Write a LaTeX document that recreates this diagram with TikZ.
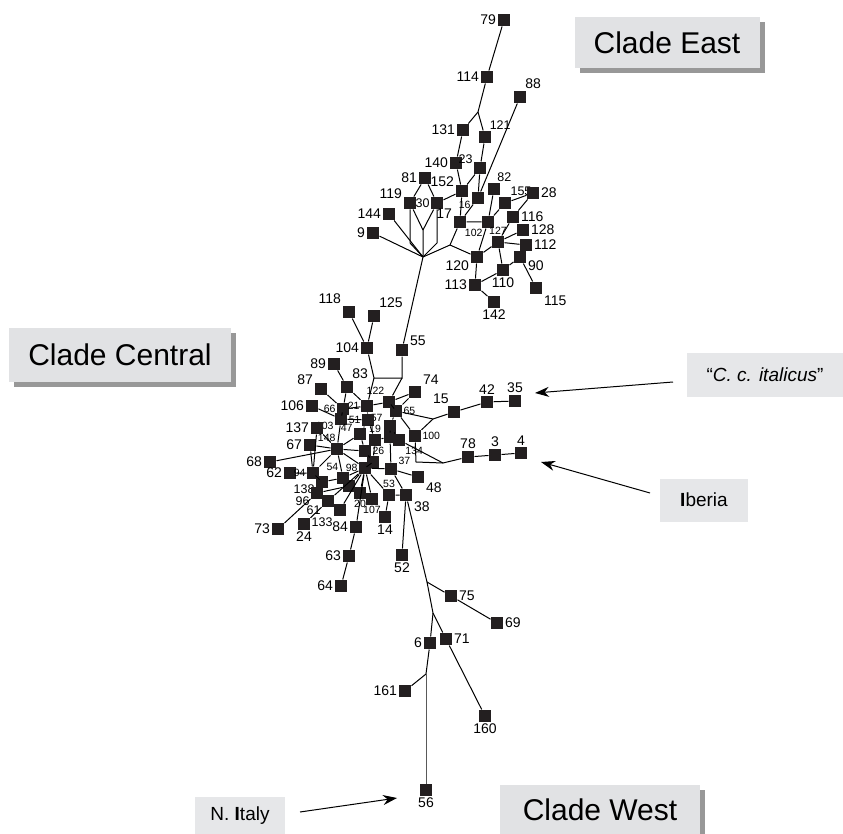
\documentclass[tikz,border=0pt]{standalone}
\usepackage{fontspec}
\setmainfont{Liberation Sans}
\usetikzlibrary{arrows.meta,shadows}
\definecolor{ink}{HTML}{231F20}
\definecolor{boxgray}{HTML}{E1E2E4}
\definecolor{tagfill}{HTML}{E6E7E9}
\definecolor{shade}{HTML}{989898}

\begin{document}
\begin{tikzpicture}[x=1pt,y=-1pt,line width=1pt,
  hap/.style = {rectangle, fill=ink, minimum size=12pt, inner sep=0pt},
  every label/.style = {font=\fontsize{14}{14}\selectfont, inner sep=1pt, text=black},
  mid/.style = {font=\fontsize{12.5}{13}\selectfont, inner sep=0.5pt},
  sml/.style = {font=\fontsize{10.5}{11}\selectfont, inner sep=0.5pt},
  clade/.style = {fill=boxgray, font=\fontsize{30}{30}\selectfont,
    drop shadow={shadow xshift=5pt, shadow yshift=-5pt, fill=shade, opacity=1}},
  tag/.style = {fill=tagfill, font=\fontsize{19}{19}\selectfont},
  pointer/.style = {->, line width=1pt},
  >={Stealth[length=14pt,width=10pt]}]
  \useasboundingbox (0,0) rectangle (843,834);

  % clade east
  \node[hap,label=left:79] (n79) at (504,20) {};
  \node[hap,label=left:114] (n114) at (487,77) {};
  \node[hap,label=60:88] (n88) at (520,97) {};
  \node[hap,label=left:131] (n131) at (463,130) {};
  \node[hap,label={[mid]60:121}] (n121) at (485,137) {};
  \node[hap,label=left:140] (n140) at (456,163) {};
  \node[hap,label={[mid]150:23}] (n23) at (480,168) {};
  \node[hap,label=left:81] (n81) at (425,178) {};
  \node[hap,label={[mid]70:82}] (n82) at (494,189) {};
  \node[hap,label=160:152] (n152) at (462,191) {};
  \node[hap,label={[sml]200:16}] (n16) at (478,198) {};
  \node[hap,label={[mid]55:155}] (n155) at (505,203) {};
  \node[hap,label=right:28] (n28) at (533,193) {};
  \node[hap,label=160:119] (n119) at (410,203) {};
  \node[hap,label={[mid]left:30}] (n30) at (437,203) {};
  \node[hap,label=left:144] (n144) at (389,214) {};
  \node[hap,label=160:17] (n17) at (460,222) {};
  \node[hap,label={[sml]235:102}] (n102) at (488,222) {};
  \node[hap,label={[sml]above:127}] (n127) at (498,242) {};
  \node[hap,label=right:116] (n116) at (513,217) {};
  \node[hap,label=right:128] (n128) at (523,230) {};
  \node[hap,label=left:9] (n9) at (373,233) {};
  \node[hap,label=right:112] (n112) at (526,245) {};
  \node[hap,label=-20:90] (n90) at (520,257) {};
  \node[hap,label=200:120] (n120) at (477,257) {};
  \node[hap,label=below:110] (n110) at (503,270) {};
  \node[hap,label=left:113] (n113) at (475,285) {};
  \node[hap,label=-45:115] (n115) at (536,288) {};
  \node[hap,label=below:142] (n142) at (494,302) {};
  \coordinate (jE1) at (478,112);
  \coordinate (hub) at (423,257);
  \coordinate (jA) at (423,230);
  \coordinate (jB) at (410,243);
  \coordinate (jC) at (437,243);
  \coordinate (jD) at (450,245);

  \draw (n79) -- (n114) -- (jE1) -- (n131) -- (n140) -- (n152) -- (n17) -- (n102) -- (n82);
  \draw (jE1) -- (n121) -- (n23) -- (n16) -- (n88);
  \draw (n23) -- (n152) -- (n30) -- (n81) -- (n119);
  \draw (n17) -- (n16);
  \draw (hub) -- (n9);
  \draw (hub) -- (n144);
  \draw (hub) -- (jB) -- (n119) -- (jA) -- (hub);
  \draw (jA) -- (n30) -- (jC) -- (hub);
  \draw (hub) -- (jD) -- (n17);
  \draw (jD) -- (n120);
  \draw (n102) -- (n155) -- (n28) -- (n116) -- (n127) -- (n120) -- (n102);
  \draw (n127) -- (n128);
  \draw (n127) -- (n112);
  \draw (n127) -- (n110) -- (n113) -- (n120);
  \draw (n110) -- (n90) -- (n115);
  \draw (n113) -- (n142);

  % clade central
  \node[hap,label=20:55] (n55) at (402,350) {};
  \node[hap,label=left:104] (n104) at (367,348) {};
  \node[hap,label=135:118] (n118) at (349,312) {};
  \node[hap,label=60:125] (n125) at (374,316) {};
  \node[hap,label=left:89] (n89) at (334,364) {};
  \node[hap,label=60:83] (n83) at (347,387) {};
  \node[hap,label=160:87] (n87) at (321,389) {};
  \node[hap,label=45:74] (n74) at (415,392) {};
  \node[hap,label=left:106] (n106) at (312,406) {};
  \node[hap,label={[sml]left:66}] (n66) at (343,409) {};
  \node[hap,label={[sml]left:21}] (n21) at (367,406) {};
  \node[hap,label={[sml]120:122}] (n122) at (389,402) {};
  \node[hap,label={[sml]right:65}] (n65) at (396,411) {};
  \node[hap,label={[sml]150:57}] (n57) at (390,426) {};
  \node[hap,label={[sml]left:51}] (n51) at (368,420) {};
  \node[hap,label={[sml]200:103}] (n103) at (341,419) {};
  \node[hap,label=left:137] (n137) at (317,428) {};
  \node[hap,label={[sml]170:47}] (n47) at (360,434) {};
  \node[hap,label={[sml]above:19}] (n19) at (375,440) {};
  \node[hap,label={[sml]95:148}] (n148) at (337,449) {};
  \node[hap,label={[sml]right:26}] (n26) at (365,451) {};
  \node[hap] (u1) at (390,437) {};
  \node[hap,label={[sml]-50:134}] (n134) at (399,440) {};
  \node[hap,label={[sml]right:100}] (n100) at (415,436) {};
  \node[hap,label=left:67] (n67) at (310,445) {};
  \node[hap,label=left:68] (n68) at (270,462) {};
  \node[hap,label=left:62] (n62) at (290,473) {};
  \node[hap,label={[sml]left:94}] (n94) at (313,473) {};
  \node[hap,label={[sml]120:54}] (n54) at (343,478) {};
  \node[hap,label={[sml]left:98}] (n98) at (365,468) {};
  \node[hap] (u2) at (373,462) {};
  \node[hap] (u3) at (349,486) {};
  \node[hap,label={[sml]30:37}] (n37) at (391,469) {};
  \node[hap,label=-30:48] (n48) at (418,477) {};
  \node[hap,label={[sml]above:53}] (n53) at (389,495) {};
  \node[hap,label=-40:38] (n38) at (406,495) {};
  \node[hap,label={[mid]195:138}] (n138) at (322,482) {};
  \node[hap,label={[mid]200:96}] (n96) at (317,493) {};
  \node[hap,label={[mid]210:61}] (n61) at (328,501) {};
  \node[hap,label={[sml]below:20}] (n20) at (360,493) {};
  \node[hap,label={[sml]below:107}] (n107) at (372,499) {};
  \node[hap,label={[mid]225:133}] (n133) at (340,510) {};
  \node[hap,label=below:14] (n14) at (385,517) {};
  \node[hap,label=left:84] (n84) at (356,527) {};
  \node[hap,label=below:24] (n24) at (304,524) {};
  \node[hap,label=left:73] (n73) at (278,529) {};
  \node[hap,label=left:63] (n63) at (349,556) {};
  \node[hap,label=left:64] (n64) at (341,586) {};
  \node[hap,label=below:52] (n52) at (402,555) {};
  \node[hap,label=120:15] (n15) at (454,412) {};
  \node[hap,label=above:42] (n42) at (487,402) {};
  \node[hap,label=above:35] (n35) at (515,401) {};
  \node[hap,label=above:78] (n78) at (468,457) {};
  \node[hap,label=above:3] (n3) at (495,455) {};
  \node[hap,label=above:4] (n4) at (521,453) {};
  \coordinate (k1) at (402,378);
  \coordinate (k2) at (374,378);
  \coordinate (jI) at (433,419);
  \coordinate (jJ) at (443,463);
  \coordinate (c1) at (416,462);

  \draw (hub) -- (n55) -- (k1) -- (k2) -- (n104) -- (n118);
  \draw (n104) -- (n125);
  \draw (k1) -- (n122);
  \draw (k2) -- (n21);
  \draw (n89) -- (n83) -- (n21) -- (n122) -- (n74) -- (n65) -- (n122);
  \draw (n83) -- (n66) -- (n87);
  \draw (n66) -- (n21);
  \draw (n106) -- (n103) -- (n66);
  \draw (n65) -- (jI) -- (n15) -- (n42) -- (n35);
  \draw (jI) -- (n100) -- (c1) -- (jJ) -- (n78) -- (n3) -- (n4);
  \draw (n65) -- (n100);
  \draw (n65) -- (n57) -- (u1) -- (n37) -- (n48);
  \draw (n57) -- (n134) -- (jJ);
  \draw (n21) -- (n51) -- (n19) -- (u1);
  \draw (n103) -- (n51) -- (n47) -- (n148);
  \draw (n47) -- (n26) -- (u2) -- (n98);
  \draw (n19) -- (u2);
  \draw (n148) -- (n67);
  \draw (n148) -- (n68);
  \draw (n148) -- (n137) -- (n94);
  \draw (n148) -- (n103);
  \draw (n148) -- (n94) -- (n62);
  \draw (n67) -- (n94) -- (n138) -- (n54) -- (n148);
  \draw (n148) -- (n98);
  \draw (n148) -- (n26);
  \draw (n98) -- (n54);
  \draw (n98) -- (u3) -- (n96) -- (n73);
  \draw (n98) -- (n133);
  \draw (n98) -- (n61) -- (n24);
  \draw (n98) -- (n20);
  \draw (n98) -- (n107);
  \draw (n98) -- (n84) -- (n63) -- (n64);
  \draw (n98) -- (n53);
  \draw (n98) -- (n37) -- (n38) -- (n53) -- (n14);
  \draw (n38) -- (n52);

  % clade west
  \node[hap,label=right:75] (n75) at (451,596) {};
  \node[hap,label=right:69] (n69) at (497,623) {};
  \node[hap,label=right:71] (n71) at (446,639) {};
  \node[hap,label=left:6] (n6) at (430,643) {};
  \node[hap,label=left:161] (n161) at (405,691) {};
  \node[hap,label=below:160] (n160) at (485,716) {};
  \node[hap,label=below:56] (n56) at (426,790) {};
  \coordinate (jW1) at (427,582);
  \coordinate (jW2) at (433,613);
  \coordinate (jW3) at (426,674);

  \draw (n38) -- (jW1) -- (n75) -- (n69);
  \draw (jW1) -- (jW2) -- (n71) -- (n160);
  \draw (jW2) -- (n6) -- (jW3) -- (n161);
  \draw[black!65] (jW3) -- (n56);

  % clade names and places
  \node[clade, minimum width=185pt, minimum height=51pt] (east) at (667,43) {Clade East};
  \node[clade, minimum width=222pt, minimum height=54pt] (central) at (120,355) {Clade Central};
  \node[clade, minimum width=200pt, minimum height=50pt] (west) at (600,810) {Clade West};
  \node[tag, minimum width=156pt, minimum height=44pt] (italicus) at (765,375) {“\textit{C. c. italicus}”};
  \node[tag, minimum width=88pt, minimum height=43pt] (iberia) at (704,500) {\textbf{I}beria};
  \node[tag, minimum width=90pt, minimum height=38pt] (italy) at (240,816) {N. \textbf{I}taly};
  \coordinate (itaS) at (673,382);
  \coordinate (itaT) at (535,393);
  \coordinate (ibeS) at (650,493);
  \coordinate (ibeT) at (541,462);
  \coordinate (nitS) at (300,812);
  \coordinate (nitT) at (397,798);
  \draw[pointer] (itaS) -- (itaT);
  \draw[pointer] (ibeS) -- (ibeT);
  \draw[pointer] (nitS) -- (nitT);
\end{tikzpicture}
\end{document}
